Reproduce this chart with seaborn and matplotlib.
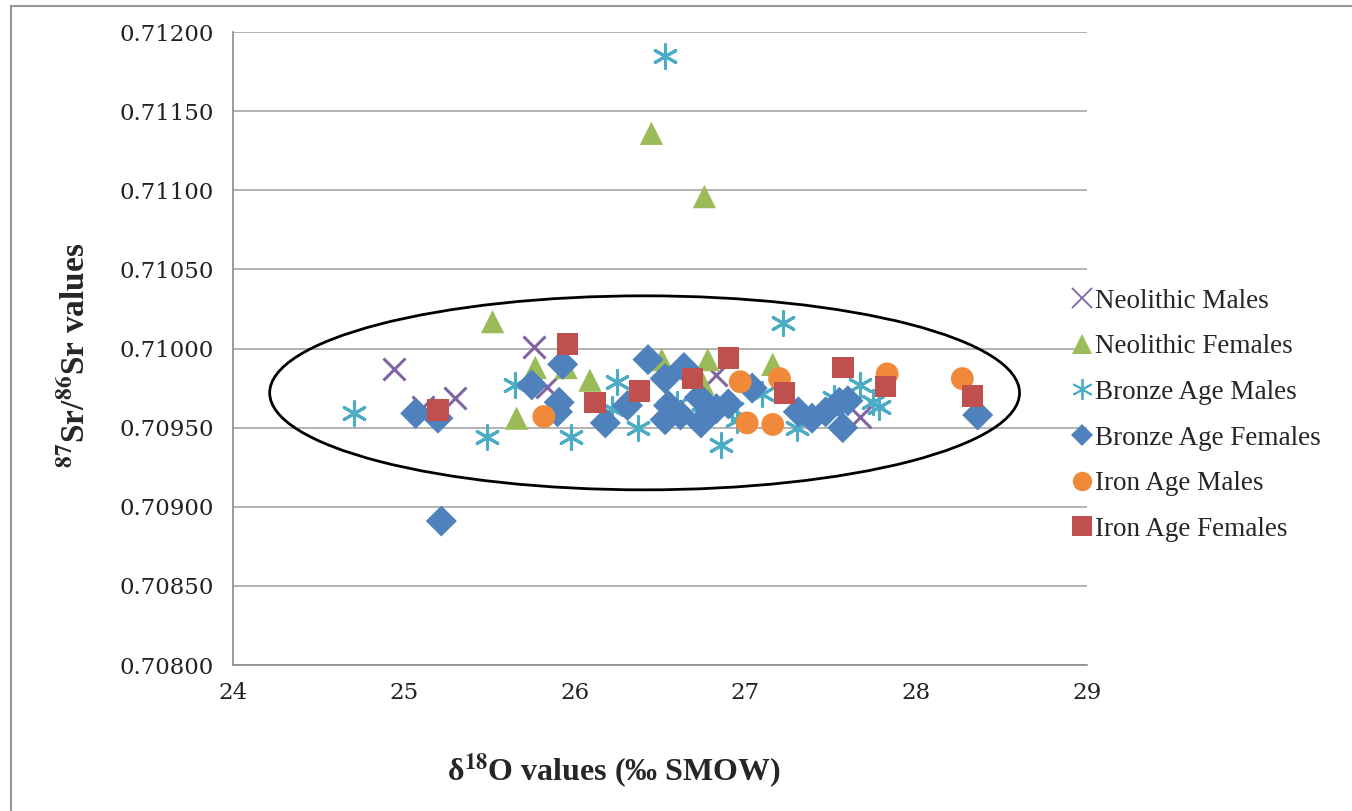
import matplotlib
matplotlib.use("Agg")
import matplotlib.pyplot as plt
import seaborn as sns
import pandas as pd
from matplotlib.patches import Ellipse, Rectangle
from matplotlib.lines import Line2D

# ---------------- data ----------------
neo_m_x = [24.94, 25.11, 25.30, 25.76, 25.84, 26.83, 27.67]
neo_m_y = [0.70987, 0.70963, 0.70969, 0.71001, 0.70976, 0.70983, 0.70957]

neo_f_x = [26.45, 26.76, 25.52, 25.66, 25.77, 25.95, 26.09, 26.51, 26.78, 27.16, 26.75]
neo_f_y = [0.71136, 0.71096, 0.71017, 0.70956, 0.70988, 0.70988, 0.70980, 0.70993, 0.70993, 0.70990, 0.70978]

bro_m_x = [26.53, 27.22, 24.71, 25.49, 25.65, 25.98, 26.25, 26.22, 26.37, 26.60,
           26.86, 26.95, 27.10, 27.30, 27.52, 27.67, 27.75, 27.78, 26.75, 26.92]
bro_m_y = [0.71185, 0.71016, 0.70959, 0.70944, 0.70977, 0.70944, 0.70979, 0.70962, 0.70950, 0.70965,
           0.70939, 0.70955, 0.70971, 0.70950, 0.70969, 0.70977, 0.70966, 0.70963, 0.70958, 0.70962]

bro_f_x = [25.22, 25.07, 25.20, 25.75, 25.93, 25.91, 25.90, 26.18, 26.43, 26.31,
           26.53, 26.64, 26.55, 26.53, 26.62, 26.73, 26.74, 26.83, 26.90, 27.04,
           27.31, 27.39, 27.47, 27.55, 27.60, 27.57, 28.36]
bro_f_y = [0.70891, 0.70959, 0.70956, 0.70977, 0.70990, 0.70966, 0.70960, 0.70953, 0.70993, 0.70964,
           0.70981, 0.70988, 0.70964, 0.70955, 0.70958, 0.70969, 0.70953, 0.70962, 0.70965, 0.70975,
           0.70960, 0.70956, 0.70960, 0.70966, 0.70967, 0.70950, 0.70958]

iron_m_x = [25.82, 26.97, 27.01, 27.16, 27.20, 27.83, 28.27]
iron_m_y = [0.70957, 0.70979, 0.70953, 0.70952, 0.70981, 0.70984, 0.70981]

iron_f_x = [25.20, 25.96, 26.12, 26.38, 26.69, 26.90, 27.23, 27.57, 27.82, 28.33]
iron_f_y = [0.70961, 0.71003, 0.70966, 0.70973, 0.70981, 0.70994, 0.70972, 0.70988, 0.70976, 0.70970]

series_names = ["Neolithic Males", "Neolithic Females", "Bronze Age Males",
                "Bronze Age Females", "Iron Age Males", "Iron Age Females"]
x_ticks = [24, 25, 26, 27, 28, 29]
y_ticks = [0.70800, 0.70850, 0.70900, 0.70950, 0.71000, 0.71050, 0.71100, 0.71150, 0.71200]

# ellipse annotation (centre, width, height) in data units
ell_cx, ell_cy, ell_w, ell_h = 26.41, 0.70972, 4.39, 0.001226

# ---------------- style ----------------
sns.set_style("white")
plt.rcParams["font.family"] = ["Liberation Serif", "DejaVu Serif"]
plt.rcParams["mathtext.fontset"] = "stix"

colors = ["#8064A2", "#9BBB59", "#4BACC6", "#4F81BD", "#F08A3A", "#C0504D"]
markers = ["x", "^", (6, 2, 0), "D", "o", "s"]
sizes = [250, 280, 290, 250, 270, 240]
lws = [2.2, 0, 2.2, 0, 0, 0]

data = [(neo_m_x, neo_m_y), (neo_f_x, neo_f_y), (bro_m_x, bro_m_y),
        (bro_f_x, bro_f_y), (iron_m_x, iron_m_y), (iron_f_x, iron_f_y)]

frames = []
for name, (xs, ys) in zip(series_names, data):
    frames.append(pd.DataFrame({"d18O": xs, "Sr": ys, "group": name}))
df = pd.concat(frames, ignore_index=True)

fig = plt.figure(figsize=(13.52, 8.11), dpi=100)
ax = fig.add_axes([0.1723, 0.18, 0.6317, 0.7805])

for i, name in enumerate(series_names):
    sub = df[df["group"] == name]
    kw = dict(data=sub, x="d18O", y="Sr", ax=ax, color=colors[i], marker=markers[i],
              s=sizes[i], legend=False, zorder=3 + i)
    if lws[i] > 0:
        sns.scatterplot(**kw, linewidth=lws[i])
    else:
        sns.scatterplot(**kw, linewidth=0, edgecolor="none")

ax.add_patch(Ellipse((ell_cx, ell_cy), ell_w, ell_h, facecolor="none",
                     edgecolor="black", lw=2, zorder=10))

ax.set_xlim(24, 29)
ax.set_ylim(0.70800, 0.71200)
ax.set_xticks(x_ticks)
ax.set_yticks(y_ticks)
ax.set_xticklabels([str(t) for t in x_ticks])
ax.set_yticklabels([f"{t:.5f}" for t in y_ticks])
ax.tick_params(axis="both", labelfontfamily="DejaVu Serif", labelsize=16.5,
               labelcolor="#222222")

ax.yaxis.grid(True, color="#A6A6A6", lw=1.2)
ax.xaxis.grid(False)
ax.set_axisbelow(True)
for s in ["top", "right"]:
    ax.spines[s].set_visible(False)
for s in ["left", "bottom"]:
    ax.spines[s].set_color("#8C8C8C")
    ax.spines[s].set_linewidth(1.2)
ax.tick_params(axis="both", direction="out", length=6, width=1, color="#8C8C8C")
ax.tick_params(axis="y", pad=8)
ax.tick_params(axis="x", pad=6)

ax.set_xlabel(r"δ$^{\mathbf{18}}$O values (‰ SMOW)", fontsize=23, fontweight="bold")
ax.xaxis.set_label_coords(0.446, -0.138)
ax.set_ylabel(r"$^{\mathbf{87}}$Sr/$^{\mathbf{86}}$Sr values", fontsize=24, fontweight="bold")
ax.yaxis.set_label_coords(-0.165, 0.49)

handles = []
leg_sizes = [14, 14, 15, 11, 14, 14]
for i, name in enumerate(series_names):
    if lws[i] > 0:
        h = Line2D([], [], linestyle="none", marker=markers[i], color=colors[i],
                   markersize=leg_sizes[i], markeredgewidth=1.3)
    else:
        h = Line2D([], [], linestyle="none", marker=markers[i], color=colors[i],
                   markersize=leg_sizes[i], markeredgewidth=0)
    handles.append(h)
fig.legend(handles, series_names, loc="center left", bbox_to_anchor=(0.773, 0.488),
           frameon=False, fontsize=19.5, labelspacing=0.76, handletextpad=0.05,
           handlelength=0.9)

# outer frame
fig.add_artist(Rectangle((0.008, -0.01), 1.1, 1.003, transform=fig.transFigure,
                         fill=False, edgecolor="#999999", lw=1.5))

fig.savefig("out.png", dpi=100)
